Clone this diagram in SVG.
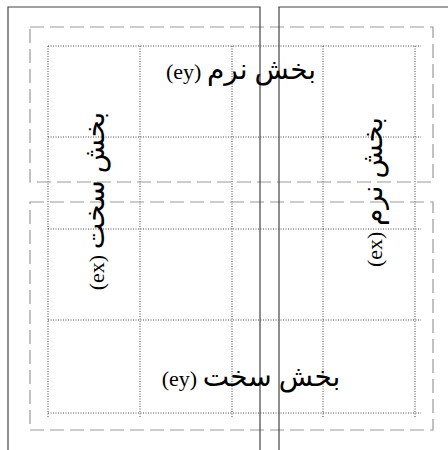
<svg xmlns="http://www.w3.org/2000/svg" width="448" height="450" viewBox="0 0 448 450">
<style>
.solid{fill:none;stroke:#444;stroke-width:1.2}
.dash{fill:none;stroke:#999;stroke-width:1.2;stroke-dasharray:14 6}
.dot{fill:none;stroke:#333;stroke-width:0.9;stroke-dasharray:1 1.5}
.lbl{font-family:"Liberation Serif","DejaVu Sans",serif;font-size:22px;fill:#000;text-anchor:middle;direction:rtl}
.ar{font-size:28px}
</style>
<rect width="448" height="450" fill="#fff"/>
<g id="grid">
<path class="dot" d="M48,46H421M48,137H421M48,229H421M48,320H421M48,413H421"/>
<path class="dot" d="M48,46V417M140,46V417M232,46V417M323,46V417M415,46V417"/>
</g>
<g id="zones">
<rect class="dash" x="30" y="27" width="403" height="155"/>
<rect class="dash" x="30" y="202" width="403" height="228"/>
</g>
<g id="frames">
<path class="solid" d="M8,450V7H260V450"/>
<path class="solid" d="M279,450V7H448"/>
</g>
<g id="label-top"><text class="lbl" x="241" y="79"><tspan class="ar">بخش نرم</tspan> (ey)</text></g>
<g id="label-bottom"><text class="lbl" x="251" y="386"><tspan class="ar">بخش سخت</tspan> (ey)</text></g>
<g id="label-left"><text class="lbl" transform="translate(104,201) rotate(-90)"><tspan class="ar">بخش سخت</tspan> (ex)</text></g>
<g id="label-right"><text class="lbl" transform="translate(382,192) rotate(-90)"><tspan class="ar">بخش نرم</tspan> (ex)</text></g>
</svg>
